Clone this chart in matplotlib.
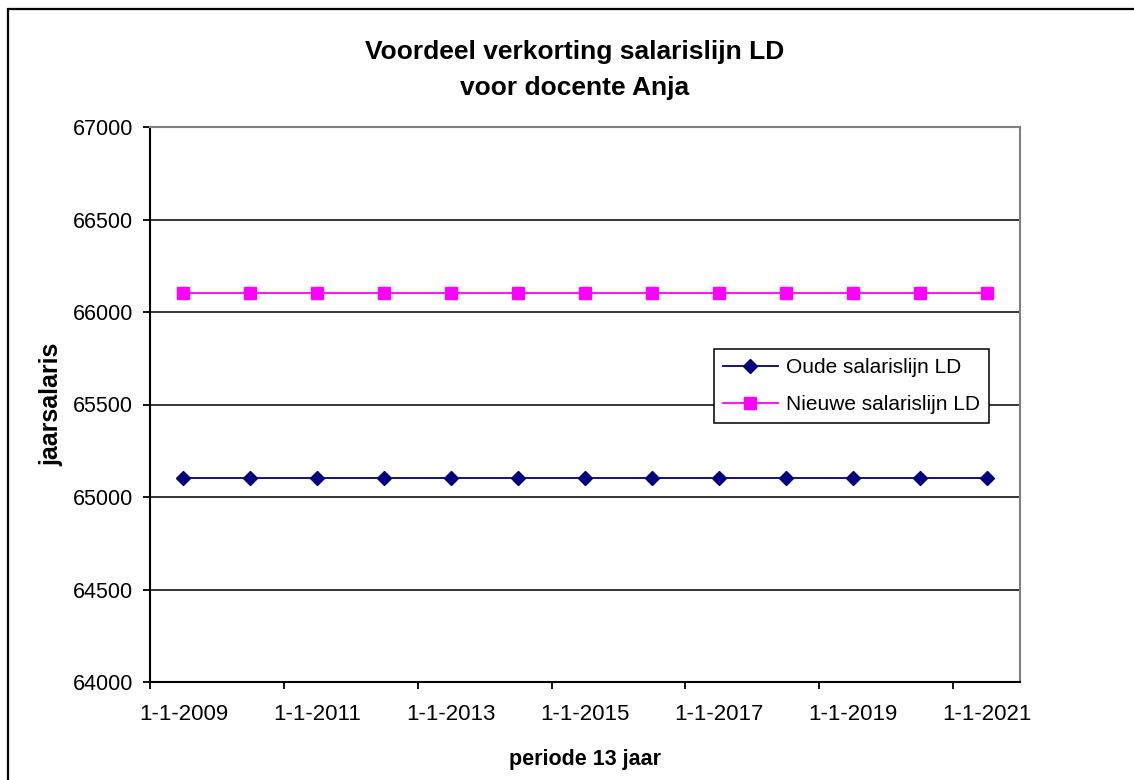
import matplotlib
matplotlib.use("Agg")
import matplotlib.pyplot as plt
from matplotlib.patches import Rectangle
from matplotlib.ticker import FixedLocator, NullFormatter

plt.rcParams["font.family"] = ["Liberation Sans", "DejaVu Sans"]

# 13 yearly categories, labelled every other year
dates = ["1-1-2009", "1-1-2010", "1-1-2011", "1-1-2012", "1-1-2013",
         "1-1-2014", "1-1-2015", "1-1-2016", "1-1-2017", "1-1-2018",
         "1-1-2019", "1-1-2020", "1-1-2021"]
oude = [65103, 65103, 65103, 65103, 65103, 65103, 65103,
        65103, 65103, 65103, 65103, 65103, 65103]
nieuwe = [66103, 66103, 66103, 66103, 66103, 66103, 66103,
          66103, 66103, 66103, 66103, 66103, 66103]
y_ticks = [64000, 64500, 65000, 65500, 66000, 66500, 67000]

W, H = 1134, 780
fig = plt.figure(figsize=(W / 100, H / 100), dpi=100)
ax = fig.add_axes([150 / W, 1 - 682 / H, 870 / W, 555 / H])

x = list(range(len(dates)))
ax.plot(x, oude, color="#000080", lw=1.3, marker="D", ms=7.5,
        label="Oude salarislijn LD", zorder=3)
ax.plot(x, nieuwe, color="#FF00FF", lw=1.3, marker="s", ms=9,
        label="Nieuwe salarislijn LD", zorder=3)

ax.set_xlim(-0.5, len(dates) - 0.5)
ax.set_ylim(64000, 67000)
ax.set_yticks(y_ticks)
for v in y_ticks[1:-1]:
    ax.axhline(v, color="black", lw=1.1, zorder=1)

ax.set_xticks(x[::2])
ax.set_xticklabels(dates[::2])
ax.xaxis.set_minor_locator(FixedLocator([i - 0.5 for i in x[::2]]))
ax.xaxis.set_minor_formatter(NullFormatter())
ax.tick_params(axis="x", which="major", length=0, pad=16, labelsize=16)
ax.tick_params(axis="x", which="minor", length=5, width=1.3, direction="out")
ax.tick_params(axis="y", length=5, width=1.3, pad=7, labelsize=15.5)

for s in ("left", "bottom"):
    ax.spines[s].set_color("black")
    ax.spines[s].set_linewidth(1.5)
for s in ("top", "right"):
    ax.spines[s].set_color("#808080")
    ax.spines[s].set_linewidth(1.5)

ax.set_ylabel("jaarsalaris", fontsize=18, fontweight="bold", labelpad=7)
ax.set_xlabel("periode 13 jaar", fontsize=15.5, fontweight="bold", labelpad=17)

fig.text(575 / W, 1 - 70 / H, "Voordeel verkorting salarislijn LD\nvoor docente Anja",
         ha="center", va="center", fontsize=19, fontweight="bold", linespacing=1.6)

leg = ax.legend(loc="upper left", bbox_to_anchor=((714 - 150) / 870, (682 - 349) / 555),
                fontsize=15, frameon=True, fancybox=False, framealpha=1,
                edgecolor="black", borderpad=0.45, labelspacing=0.85,
                handlelength=2.6, handletextpad=0.4, borderaxespad=0)
leg.get_frame().set_linewidth(1.1)

fig.patches.append(Rectangle((8 / W, -0.05), 1.1, 1 - 9 / H + 0.05,
                             transform=fig.transFigure, fill=False,
                             edgecolor="black", lw=1.6))

fig.savefig("out.png", dpi=100)
